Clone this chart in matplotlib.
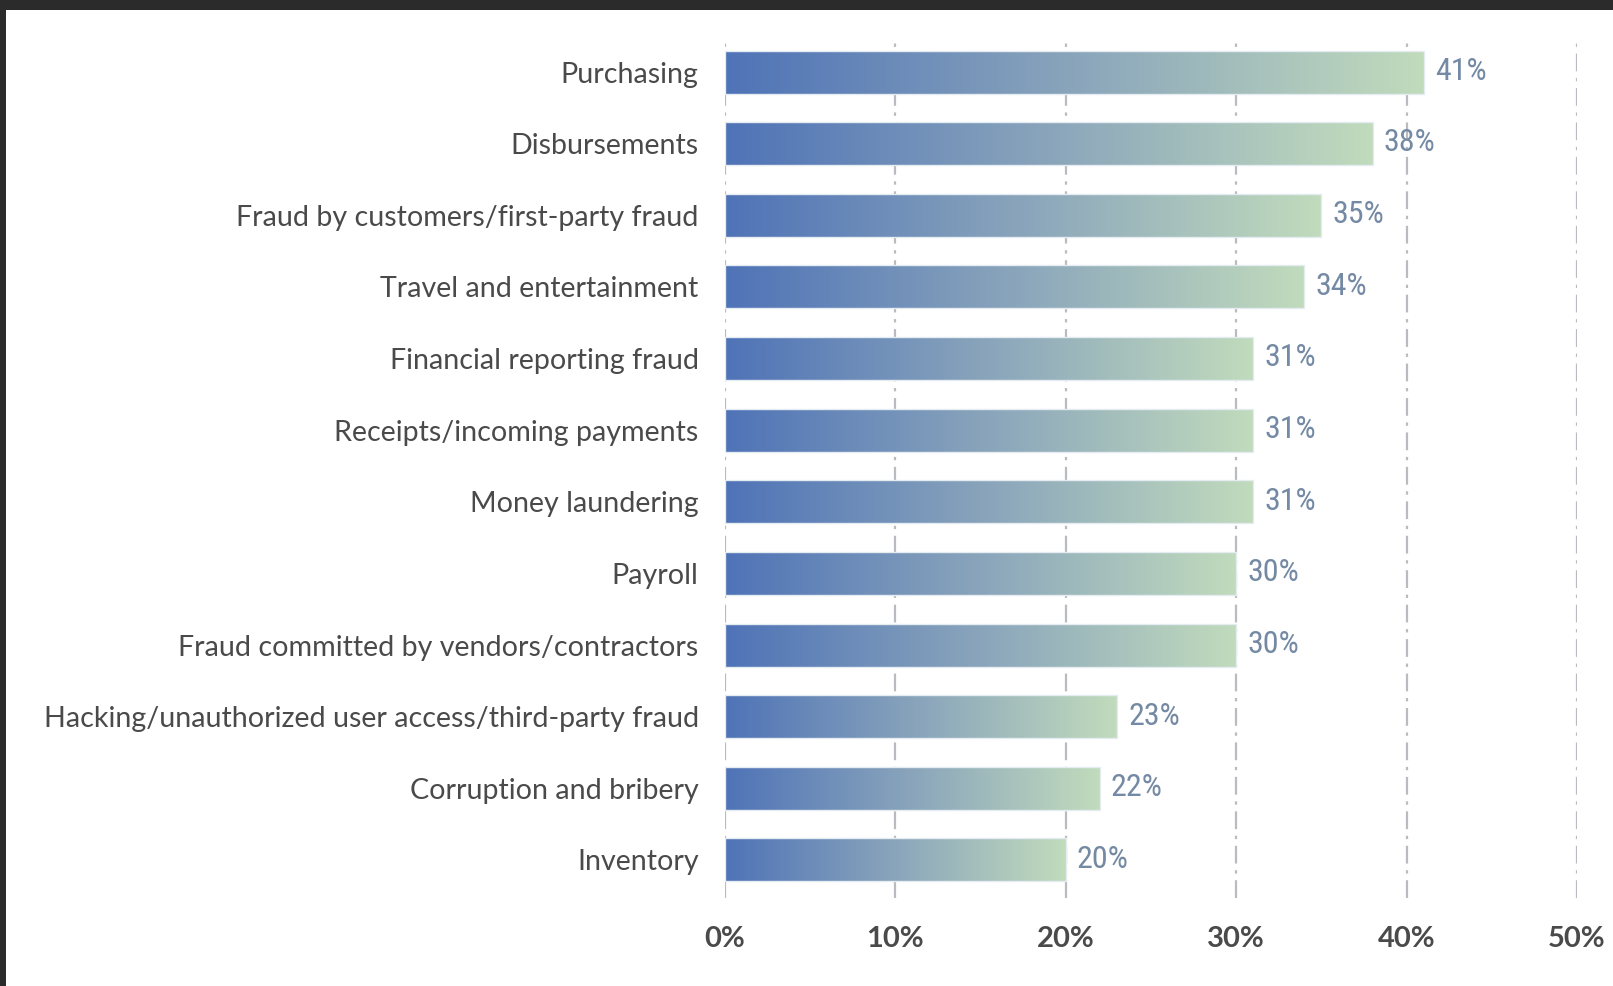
import numpy as np
import matplotlib
matplotlib.use('Agg')
import matplotlib.pyplot as plt
from matplotlib.colors import LinearSegmentedColormap
from matplotlib.patches import Rectangle

# Datos: áreas de fraude y porcentaje
categories = [
    'Purchasing',
    'Disbursements',
    'Fraud by customers/first-party fraud',
    'Travel and entertainment',
    'Financial reporting fraud',
    'Receipts/incoming payments',
    'Money laundering',
    'Payroll',
    'Fraud committed by vendors/contractors',
    'Hacking/unauthorized user access/third-party fraud',
    'Corruption and bribery',
    'Inventory',
]
values = [41, 38, 35, 34, 31, 31, 31, 30, 30, 23, 22, 20]
xticks = [0, 10, 20, 30, 40, 50]

plt.rcParams['font.family'] = ['Lato', 'DejaVu Sans']

fig = plt.figure(figsize=(16.13, 9.86), dpi=100)
fig.patch.set_facecolor('white')
ax = fig.add_axes([0.4495, 0.0893, 0.9777 - 0.4495, 0.9625 - 0.0893])

# Degradado azul -> verde para cada barra
cmap = LinearSegmentedColormap.from_list('azul_verde', ['#4f73b7', '#8aa5bb', '#c1dbbd'])
grad = np.linspace(0, 1, 256).reshape(1, -1)
h = 0.6
for i, v in enumerate(values):
    ax.imshow(grad, cmap=cmap, aspect='auto', extent=[0, v, i + h / 2, i - h / 2],
              zorder=3, interpolation='bicubic')
    ax.add_patch(Rectangle((0, i - h / 2), v, h, fill=False, edgecolor='#e4ecf2',
                           linewidth=1, zorder=4))
    ax.text(v + 0.65, i - 0.01, f'{v}%', va='center', ha='left', fontsize=23,
            color='#7489a3', family=['Roboto Condensed', 'Roboto', 'DejaVu Sans'], zorder=5)

ax.set_xlim(0, 50)
ax.set_ylim(len(values) - 1 + 0.53, -0.49)
ax.set_yticks(range(len(categories)))
ax.set_yticklabels(categories, fontsize=20.6, color='#4a4a4a')
ax.set_xticks(xticks)
ax.set_xticklabels([f'{t}%' for t in xticks], fontsize=21, fontweight='bold', color='#4a4a4a')
ax.tick_params(axis='y', length=0, pad=19)
ax.tick_params(axis='x', length=0, pad=20)
for s in ax.spines.values():
    s.set_visible(False)

# Líneas de cuadrícula punto-raya
for t in xticks:
    ax.axvline(t, color='#b8bbbf', linestyle=(0, (8, 3, 1.5, 3)), linewidth=1.6, zorder=1)

# Marco oscuro de la captura
fig.patches.append(Rectangle((0, 1 - 10 / 986), 1, 10 / 986, transform=fig.transFigure,
                             facecolor='#2b2b2b', edgecolor='none', zorder=10))
fig.patches.append(Rectangle((0, 0), 6 / 1613, 1, transform=fig.transFigure,
                             facecolor='#2b2b2b', edgecolor='none', zorder=10))

fig.savefig('out.png', dpi=100)
